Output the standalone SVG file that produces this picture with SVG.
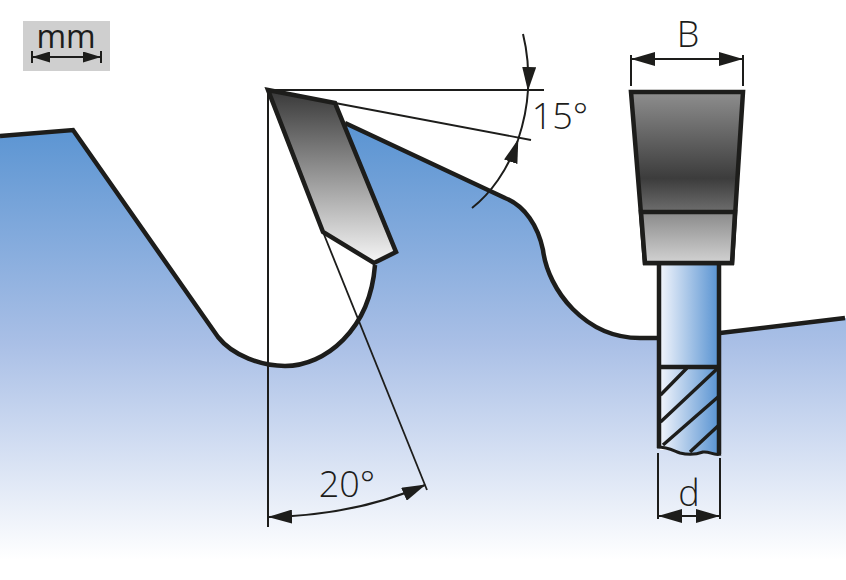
<svg xmlns="http://www.w3.org/2000/svg" width="846" height="580" viewBox="0 0 846 580">
<defs>
<linearGradient id="body" gradientUnits="userSpaceOnUse" x1="0" y1="125" x2="0" y2="560"><stop offset="0" stop-color="#5a94d2"/><stop offset="0.5" stop-color="#a9bfe6"/><stop offset="1" stop-color="#ffffff"/></linearGradient>
<linearGradient id="tip" gradientUnits="userSpaceOnUse" x1="0" y1="92" x2="0" y2="262"><stop offset="0" stop-color="#3a3a3a"/><stop offset="1" stop-color="#f5f5f5"/></linearGradient>
<linearGradient id="upper" gradientUnits="userSpaceOnUse" x1="0" y1="92" x2="0" y2="212"><stop offset="0" stop-color="#8e8e8e"/><stop offset="0.72" stop-color="#3c3c3c"/><stop offset="1" stop-color="#6e6e6e"/></linearGradient>
<linearGradient id="lower" gradientUnits="userSpaceOnUse" x1="0" y1="212" x2="0" y2="263"><stop offset="0" stop-color="#8a8a8a"/><stop offset="1" stop-color="#d2d2d2"/></linearGradient>
<linearGradient id="shank" gradientUnits="userSpaceOnUse" x1="660" y1="0" x2="718" y2="0"><stop offset="0" stop-color="#f2f5fc"/><stop offset="1" stop-color="#5a94d2"/></linearGradient>
<marker id="ah" viewBox="0 0 24 14" refX="23" refY="7" markerWidth="24" markerHeight="14" markerUnits="userSpaceOnUse" orient="auto-start-reverse"><path d="M0 0L24 7L0 14Z" fill="#1d1d1b"/></marker>
<marker id="as" viewBox="0 0 18 11" refX="17" refY="5.500" markerWidth="18" markerHeight="11" markerUnits="userSpaceOnUse" orient="auto-start-reverse"><path d="M0 0L18 5.500L0 11Z" fill="#1d1d1b"/></marker>
</defs>
<style>
.o{stroke:#1d1d1b;stroke-width:4.500;stroke-linejoin:miter}
.n{fill:none}
.t{stroke:#1d1d1b;stroke-width:1.800;fill:none}
.d{stroke:#1d1d1b;stroke-width:2;fill:none}
.a{marker-start:url(#ah);marker-end:url(#ah)}
.s{marker-start:url(#as);marker-end:url(#as)}
text{font-family:"Open Sans","Liberation Sans",sans-serif;font-weight:300;fill:#1d1d1b;text-anchor:middle}
</style>
<rect width="846" height="580" fill="#fff"/>
<g id="saw-body">
<path d="M0 136L73 130L218 337C233 356 262 366 285 366C325 366 370 330 375 265L396 252L345 123L505 198C525 206 538 226 543 250C548 290 585 338 640 338L660 338L660 450L718 450L718 333L846 318L846 580L0 580Z" fill="url(#body)"/>
<path class="o n" d="M0 136L73 130L218 337C233 356 262 366 285 366C325 366 370 330 375 265"/>
<path class="o n" d="M345 123L505 198C525 206 538 226 543 250C548 290 585 338 640 338L660 338"/>
<path class="o n" d="M720 333L845 318"/>
</g>
<g id="shank-node">
<path d="M660 263L719 263L719 454C713 456 710 451 703 453C695 455 688 454 680 453C672 450 668 447 660 447Z" fill="url(#shank)"/>
<path class="o n" d="M659 263L659 448"/><path class="o n" d="M719 263L719 454"/>
<path class="o n" d="M659 367L719 367"/>
<path d="M657 447C668 447 672 450 680 453C688 455 695 455 703 452C710 451 713 456 721 454" stroke="#1d1d1b" stroke-width="3" fill="none"/>
<path d="M660.500 395L687 368M660.500 422L718 368M663 445L718 397M690 452L718 426" stroke="#1d1d1b" stroke-width="3.400" fill="none"/>
</g>
<g id="carbide-tip">
<path class="o" d="M268 90L335 103L396 252L374 263L323 232Z" fill="url(#tip)"/>
</g>
<g id="carbide-front">
<path class="o" d="M631 92L743 92L732 263L645 263Z" fill="url(#upper)"/>
<path class="o" d="M641 212L735 212L732 263L645 263Z" fill="url(#lower)"/>
</g>
<g id="connectors">
<path class="d" d="M268 90L268 527"/>
<path class="d" d="M268 90L544 90"/>
<path class="t" d="M335 103L531 140"/>
<path class="t" d="M323 232L427 490"/>
<path class="d a" d="M269 517C320 516 375 507 425 485"/>
<path class="d" marker-end="url(#ah)" d="M472 208C490 194 508 170 518 140"/>
<path class="d" marker-end="url(#ah)" d="M523 34C527 50 529 70 528 90"/>
<path class="d" d="M518 140C523 125 527 108 528 90"/>
<path class="d" d="M631 55L631 86M743 55L743 86"/>
<path class="d a" d="M632 59L742 59"/>
<path class="d" d="M658 453L658 519M720 458L720 519"/>
<path class="d a" d="M659 516L719 516"/>
</g>
<g id="mm-badge">
<rect x="23" y="21" width="87" height="50" fill="#cfcfcf"/>
<text x="66" y="48" font-size="32" style="font-weight:400">mm</text>
<path class="d" d="M32 51L32 63M101 51L101 63"/>
<path class="d s" d="M33 57L100 57"/>
</g>
<text x="688" y="47" font-size="36">B</text>
<text x="560" y="129" font-size="36">15°</text>
<text x="347" y="497" font-size="36">20°</text>
<text x="689" y="506" font-size="36">d</text>
</svg>
